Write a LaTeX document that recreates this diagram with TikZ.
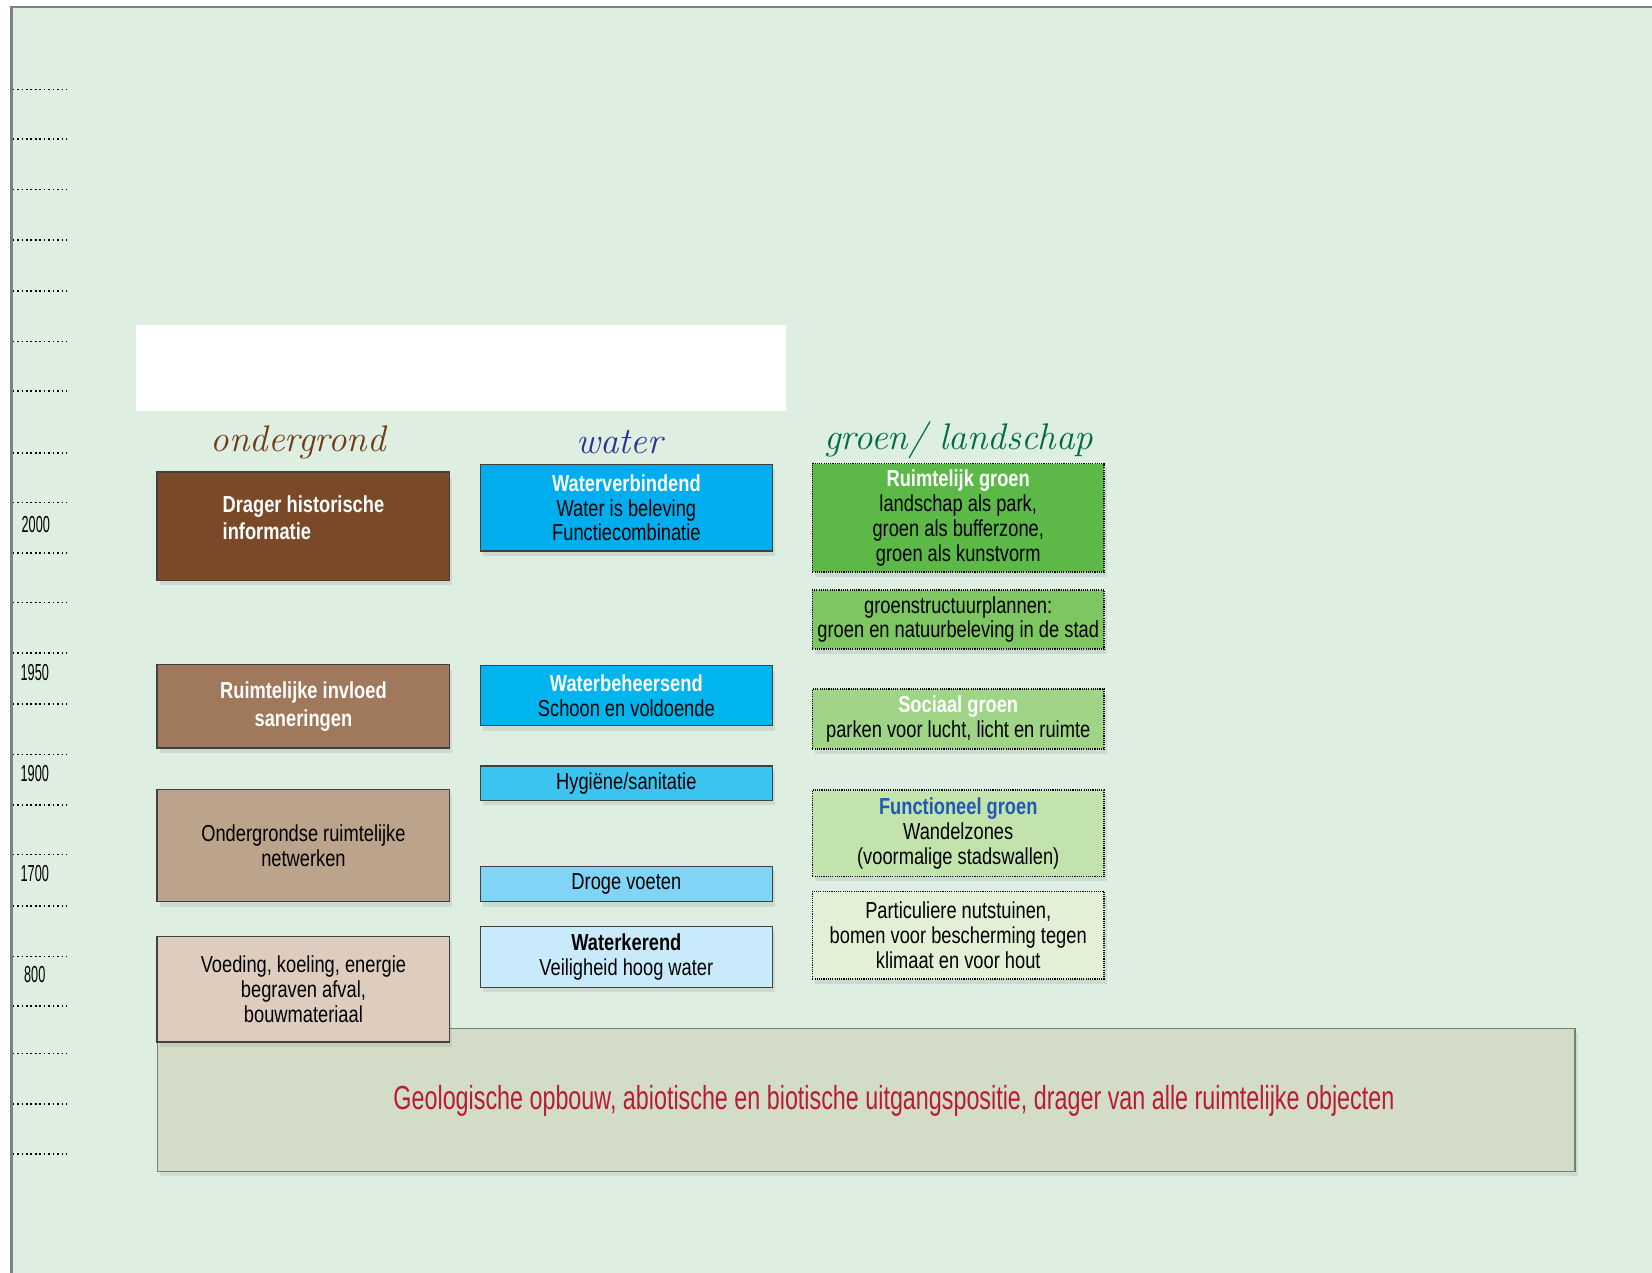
\documentclass[tikz,border=0pt]{standalone}
\usepackage{fontspec}
\newfontfamily\condfont{Liberation Sans}[FakeStretch=0.79]
\newfontfamily\geofont{Liberation Sans}[FakeStretch=0.70]
\newfontfamily\yearfont{Liberation Sans}[FakeStretch=0.55]
\usetikzlibrary{shadows}
\definecolor{bgmint}{RGB}{222,239,226}
\definecolor{brownA}{RGB}{122,74,40}
\definecolor{brownB}{RGB}{160,120,92}
\definecolor{brownC}{RGB}{187,163,140}
\definecolor{brownD}{RGB}{222,205,190}
\definecolor{blueA}{RGB}{0,174,239}
\definecolor{blueB}{RGB}{0,180,238}
\definecolor{blueC}{RGB}{60,196,240}
\definecolor{blueD}{RGB}{128,212,245}
\definecolor{blueE}{RGB}{200,234,250}
\definecolor{greenA}{RGB}{92,185,72}
\definecolor{greenB}{RGB}{126,198,98}
\definecolor{greenC}{RGB}{160,212,135}
\definecolor{greenD}{RGB}{195,227,172}
\definecolor{greenE}{RGB}{226,241,214}
\definecolor{basefill}{RGB}{211,220,199}
\definecolor{baseline}{RGB}{120,128,112}
\definecolor{geored}{RGB}{185,28,50}
\definecolor{headbrown}{RGB}{110,60,25}
\definecolor{headblue}{RGB}{46,49,146}
\definecolor{headgreen}{RGB}{0,110,60}
\definecolor{funcblue}{RGB}{31,90,180}

\tikzset{
  layerbox/.style={draw=black!75, line width=0.6pt, rectangle, inner sep=1pt,
    drop shadow={opacity=0.18, shadow xshift=0.5mm, shadow yshift=-0.9mm}},
  obox/.style={layerbox, minimum width=5.56cm},
  wbox/.style={layerbox, minimum width=5.54cm},
  gbox/.style={layerbox, draw=black, line width=0.8pt, dash pattern=on 0.6pt off 0.6pt, minimum width=5.54cm},
  head/.style={font=\itshape\fontsize{20}{20}\selectfont},
  year/.style={font=\yearfont\fontsize{12.5}{13}\selectfont},
  tickline/.style={line width=0.9pt, dash pattern=on 0.9pt off 1.5pt},
}

\begin{document}
\begin{tikzpicture}[x=0.02cm,y=-0.02cm, every node/.style={font=\condfont\fontsize{12.5}{13.4}\selectfont, align=center}]
    \useasboundingbox (0,0) rectangle (1568,1208);
    \fill[bgmint] (11,7) rectangle (1568,1208);
    \draw[gray, line width=1.2pt] (11,1208) -- (11,7) -- (1568,7);
    % time axis
    \foreach \ty in {85,132,180,228,276,324,371,430,477,525,572,620,668,716,764,811,860,908,955,1000,1048,1095}
        \draw[tickline] (12,\ty) -- (64,\ty);
    \node[year] (y2000) at (34,498) {2000};
    \node[year] (y1950) at (33,638) {1950};
    \node[year] (y1900) at (33,734) {1900};
    \node[year] (y1700) at (33,829) {1700};
    \node[year] (y800) at (33,925) {800};
    \fill[white] (129,308) rectangle (746,390);
    % column titles
    \node[head, text=headbrown] (hgrond) at (283,420) {ondergrond};
    \node[head, text=headblue] (hwater) at (588,420) {water};
    \node[head, text=headgreen] (hgroen) at (910,418) {groen/ landschap};
    % base layer
    \node[layerbox, draw=baseline, fill=basefill, minimum width=26.92cm, minimum height=2.72cm] (base) at (822,1044) {};
    \node[font=\geofont\fontsize{18}{20}\selectfont, text=geored] (geotext) at (848.5,1045) {Geologische opbouw, abiotische en biotische uitgangspositie, drager van alle ruimtelijke objecten};
    % ondergrond
    \node[obox, fill=brownA, text=white, minimum height=2.06cm, align=left] (drager) at (288,499.5) {\textbf{Drager historische}\\[1.5pt]\textbf{informatie}\\[-4pt]};
    \node[obox, fill=brownB, text=white, minimum height=1.58cm] (invloed) at (288,670.5) {\textbf{Ruimtelijke invloed}\\[1.5pt]\textbf{saneringen}};
    \node[obox, fill=brownC, minimum height=2.14cm] (netwerk) at (288,802.5) {Ondergrondse ruimtelijke\\netwerken};
    \node[obox, fill=brownD, minimum height=2.0cm] (voeding) at (288,939) {Voeding, koeling, energie\\begraven afval,\\bouwmateriaal};
    % water
    \node[wbox, fill=blueA, minimum height=1.64cm] (verbind) at (594.5,482) {\textcolor{white}{\textbf{Waterverbindend}}\\Water is beleving\\Functiecombinatie};
    \node[wbox, fill=blueB, minimum height=1.14cm] (beheer) at (594.5,660.5) {\textcolor{white}{\textbf{Waterbeheersend}}\\Schoon en voldoende};
    \node[wbox, fill=blueC, minimum height=0.66cm] (hygiene) at (594.5,743.5) {Hygiëne/sanitatie};
    \node[wbox, fill=blueD, minimum height=0.68cm] (droog) at (594.5,839) {Droge voeten};
    \node[wbox, fill=blueE, minimum height=1.16cm] (kerend) at (594.5,908) {\textbf{Waterkerend}\\Veiligheid hoog water};
    % groen / landschap
    \node[gbox, fill=greenA, minimum height=2.06cm] (ruimgroen) at (909.5,491.5) {\textcolor{white}{\textbf{Ruimtelijk groen}}\\landschap als park,\\groen als bufferzone,\\groen als kunstvorm};
    \node[gbox, fill=greenB, minimum height=1.12cm] (structuur) at (909.5,588) {groenstructuurplannen:\\groen en natuurbeleving in de stad};
    \node[gbox, fill=greenC, minimum height=1.14cm] (sociaal) at (909.5,682.5) {\textcolor{white}{\textbf{Sociaal groen}}\\parken voor lucht, licht en ruimte};
    \node[gbox, fill=greenD, minimum height=1.64cm] (functie) at (909.5,791) {\textcolor{funcblue}{\textbf{Functioneel groen}}\\Wandelzones\\(voormalige stadswallen)};
    \node[gbox, fill=greenE, minimum height=1.66cm] (nuts) at (909.5,887.5) {Particuliere nutstuinen,\\bomen voor bescherming tegen\\klimaat en voor hout};
\end{tikzpicture}
\end{document}
